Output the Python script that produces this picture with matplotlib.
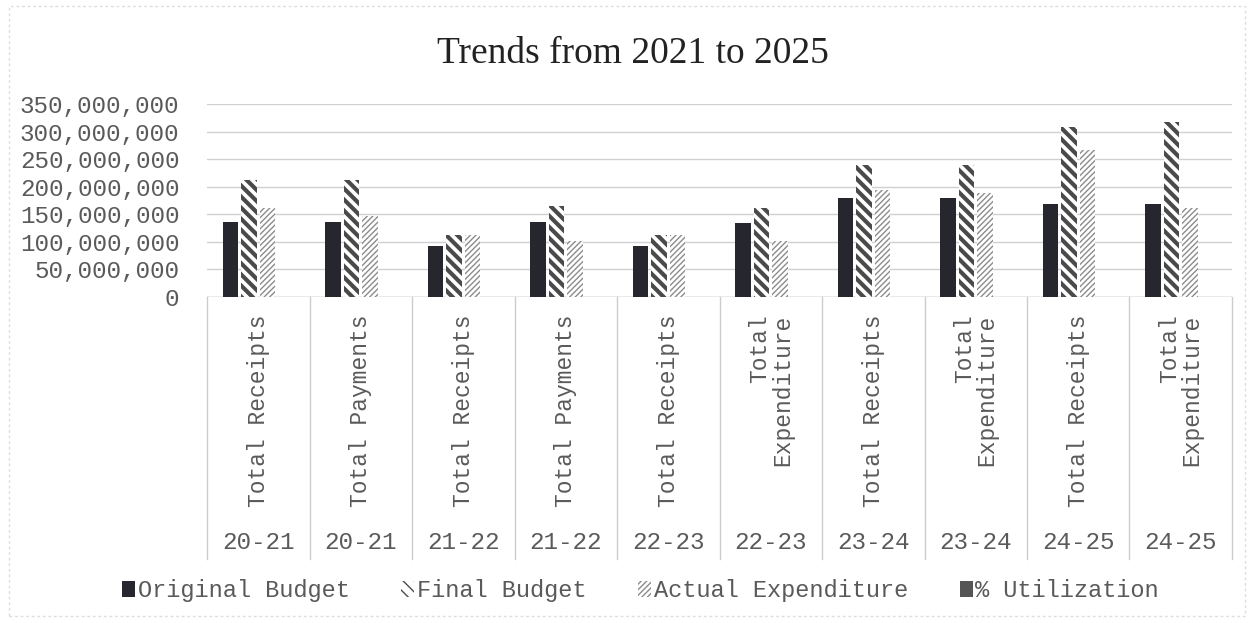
import matplotlib
matplotlib.use('Agg')
import matplotlib.pyplot as plt
import numpy as np
from matplotlib.patches import Rectangle
from matplotlib.ticker import FuncFormatter

# --------------------------------------------------------------------------- #
#  Data
# --------------------------------------------------------------------------- #
items = ['Total Receipts', 'Total Payments', 'Total Receipts', 'Total Payments',
         'Total Receipts', 'Total\nExpenditure', 'Total Receipts', 'Total\nExpenditure',
         'Total Receipts', 'Total\nExpenditure']
years = ['20-21', '20-21', '21-22', '21-22', '22-23', '22-23',
         '23-24', '23-24', '24-25', '24-25']

original_budget = [136e6, 136e6, 93e6, 136e6, 93e6, 135e6, 179e6, 179e6, 168e6, 168e6]
final_budget = [212e6, 212e6, 113e6, 165e6, 113e6, 162e6, 239e6, 239e6, 309e6, 318e6]
actual_expenditure = [162e6, 147e6, 113e6, 102e6, 113e6, 102e6, 194e6, 188e6, 267e6, 161e6]
pct_utilization = [76, 70, 100, 62, 100, 63, 81, 79, 86, 51]

series_names = ['Original Budget', 'Final Budget', 'Actual Expenditure', '% Utilization']

MONO = ['Liberation Mono', 'DejaVu Sans Mono']
SERIF = ['Liberation Serif', 'DejaVu Serif']
TXT = '#5a5a5a'

fig = plt.figure(figsize=(12.51, 6.23), dpi=100)
ax = fig.add_axes([0.1655, 0.5233, 0.8193, 0.3098])

x = np.arange(len(items))
w = 0.15
step = 0.18
offsets = [-1.5 * step, -0.5 * step, 0.5 * step, 1.5 * step]


def hatched_bars(vals, off, hatch, color, lw, **kw):
    bars = ax.bar(x + off, vals, w, facecolor='white', edgecolor=color,
                  hatch=hatch, linewidth=0, zorder=3, **kw)
    for b in bars:
        if hasattr(b, 'set_hatch_linewidth'):
            b.set_hatch_linewidth(lw)
    return bars


with plt.rc_context({'hatch.linewidth': 3.0}):
    b1 = ax.bar(x + offsets[0], original_budget, w, color='#26262e', zorder=3,
                label=series_names[0])
    b2 = hatched_bars(final_budget, offsets[1], '\\\\\\', '#4a4a4a', 3.0,
                      label=series_names[1])
with plt.rc_context({'hatch.linewidth': 1.0}):
    b3 = hatched_bars(actual_expenditure, offsets[2], '//////', '#8c8c8c', 1.0,
                      label=series_names[2])
    b4 = ax.bar(x + offsets[3], pct_utilization, w, color='#555555', zorder=3,
                label=series_names[3])

ax.set_ylim(0, 350e6)
ax.set_xlim(-0.5, len(items) - 0.5)
ax.set_yticks(np.arange(0, 350e6 + 1, 50e6))
ax.yaxis.set_major_formatter(FuncFormatter(lambda v, p: f'{int(v):,}'))
ax.grid(axis='y', color='#cfcfd4', linewidth=1.0, zorder=0)
ax.set_axisbelow(True)
for s in ax.spines.values():
    s.set_visible(False)
ax.tick_params(axis='y', length=0, pad=20, labelsize=17.5, labelcolor=TXT)
for t in ax.get_yticklabels():
    t.set_fontfamily(MONO)
ax.set_xticks([])

# category axis: separators and two label rows
trans = ax.get_xaxis_transform()
ax.axhline(0, color='#c0c0c0', linewidth=1.0, zorder=2)
for b in np.arange(-0.5, len(items), 1.0):
    ax.plot([b, b], [0, -1.36], transform=trans, color='#cccccc',
            linewidth=1.0, clip_on=False)
for i, (lab, yr) in enumerate(zip(items, years)):
    ax.text(i, -0.09, lab, transform=trans, rotation=90, ha='center', va='top',
            multialignment='right', fontsize=16.5, family=MONO, color=TXT,
            linespacing=1.0)
    ax.text(i, -1.27, yr, transform=trans, ha='center', va='center',
            fontsize=17.5, family=MONO, color=TXT)

fig.text(0.506, 0.914, 'Trends from 2021 to 2025', ha='center', va='center',
         fontsize=27, family=SERIF, color='#222222')

leg = fig.legend(handles=[b1, b2, b3, b4], labels=series_names,
                 loc='center', bbox_to_anchor=(0.512, 0.052), ncol=4,
                 frameon=False, handlelength=0.55, handleheight=0.7,
                 handletextpad=0.1, columnspacing=2.2,
                 prop={'family': MONO, 'size': 17})
for t in leg.get_texts():
    t.set_color(TXT)

fig.patches.append(Rectangle((0.007, 0.012), 0.988, 0.978, transform=fig.transFigure,
                             fill=False, edgecolor='#dddddd', linewidth=1.0,
                             linestyle=(0, (2, 2))))

fig.savefig('out.png', dpi=100)
